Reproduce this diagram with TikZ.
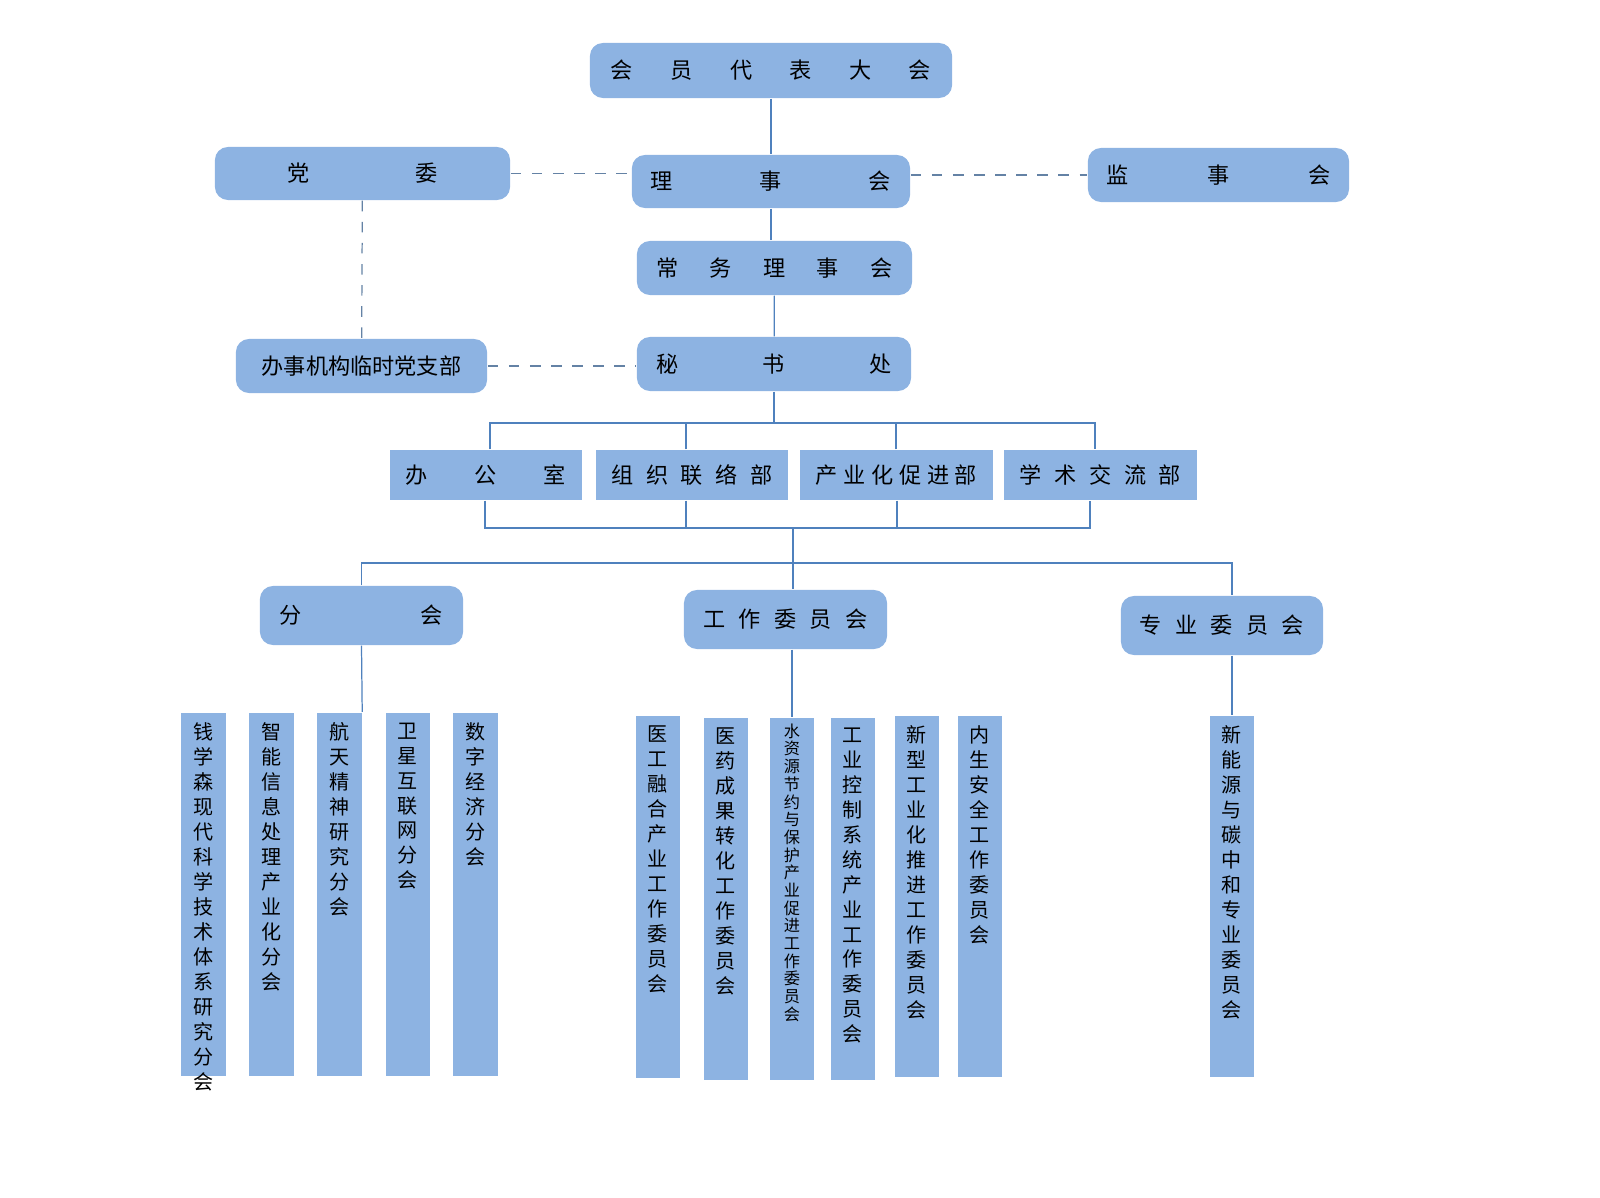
\documentclass[tikz,border=0pt]{standalone}
\usepackage{fontspec}
\setmainfont{Noto Sans CJK SC}
\definecolor{boxblue}{RGB}{141,179,226}
\definecolor{lineblue}{RGB}{79,129,189}
\definecolor{dashblue}{RGB}{100,130,165}
% spread characters over a given width
\def\spreadaux#1{\ifx#1\relax\else\hfill#1\expandafter\spreadaux\fi}
\newcommand\spread[3]{\makebox[#1]{#2\spreadaux#3\relax}}
% stack characters vertically
\def\vstackaux#1{\ifx#1\relax\else#1\\\expandafter\vstackaux\fi}
\newcommand\vstack[1]{\vstackaux#1\relax}
\tikzset{
  rbox/.style={rectangle, rounded corners=1.3mm, fill=boxblue, inner sep=0pt,
    font=\fontsize{6.3}{7}\selectfont},
  sbox/.style={rectangle, fill=boxblue, inner sep=0pt, minimum width=1.92cm,
    minimum height=0.5cm, font=\fontsize{6.3}{7}\selectfont},
  bar/.style={rectangle, fill=boxblue, inner sep=0pt, minimum width=0.44cm},
  bartext/.style={anchor=north, align=center, inner sep=0pt,
    font=\fontsize{5.7}{7.1}\selectfont},
  link/.style={draw=lineblue, line width=0.35pt},
  dlink/.style={draw=dashblue, line width=0.35pt, dashed}
}
\begin{document}
\begin{tikzpicture}[x=0.01cm, y=-0.01cm]
  \useasboundingbox (0,0) rectangle (1600,1198);
  % top levels
  \node[rbox, minimum width=3.62cm, minimum height=0.55cm] (dahui) at (771,70.5)
    {\spread{3.2cm}{会}{员代表大会}};
  \node[rbox, minimum width=2.95cm, minimum height=0.53cm] (dangwei) at (362.5,173.5)
    {\spread{1.5cm}{党}{委}};
  \node[rbox, minimum width=2.78cm, minimum height=0.53cm] (lishi) at (771,181.5)
    {\spread{2.4cm}{理}{事会}};
  \node[rbox, minimum width=2.61cm, minimum height=0.54cm] (jianshi) at (1218.5,175)
    {\spread{2.24cm}{监}{事会}};
  \node[rbox, minimum width=2.75cm, minimum height=0.54cm] (changwu) at (774.5,268)
    {\spread{2.36cm}{常}{务理事会}};
  \node[rbox, minimum width=2.51cm, minimum height=0.54cm] (zhibu) at (361.5,366)
    {办事机构临时党支部};
  \node[rbox, minimum width=2.74cm, minimum height=0.54cm] (mishu) at (774,364)
    {\spread{2.35cm}{秘}{书处}};
  % departments
  \node[sbox] (bangong) at (486,475) {\spread{1.6cm}{办}{公室}};
  \node[sbox] (zuzhi) at (692,475) {\spread{1.61cm}{组}{织联络部}};
  \node[sbox] (chanye) at (896.5,475) {\spread{1.61cm}{产}{业化促进部}};
  \node[sbox] (xueshu) at (1100.5,475) {\spread{1.61cm}{学}{术交流部}};
  % committees
  \node[rbox, minimum width=2.03cm, minimum height=0.59cm] (fenhui) at (361.5,615.5)
    {\spread{1.63cm}{分}{会}};
  \node[rbox, minimum width=2.03cm, minimum height=0.59cm] (gongzuo) at (785.5,619.5)
    {\spread{1.64cm}{工}{作委员会}};
  \node[rbox, minimum width=2.02cm, minimum height=0.59cm] (zhuanye) at (1222,625.5)
    {\spread{1.64cm}{专}{业委员会}};
  % vertical bars
  \foreach \name/\x/\yt/\yb/\txt in {
      fa/203.5/712/1075/钱学森现代科学技术体系研究分会,
      fb/271.5/712/1075/智能信息处理产业化分会,
      fc/339.5/712/1075/航天精神研究分会,
      fd/408/712/1075/卫星互联网分会,
      fe/475.5/712/1075/数字经济分会,
      ga/658/715/1077/医工融合产业工作委员会,
      gb/726/717/1079/医药成果转化工作委员会,
      gd/853/717/1079/工业控制系统产业工作委员会,
      ge/916.5/715/1076/新型工业化推进工作委员会,
      gf/979.5/715/1076/内生安全工作委员会,
      za/1232/715/1076/新能源与碳中和专业委员会} {
    \node[bar, minimum height={(\yb-\yt)*0.01cm}, anchor=north] (\name) at (\x,\yt) {};
    \node[bartext] at ([yshift=-0.1cm]\name.north) {\expandafter\vstack\expandafter{\txt}};
  }
  \node[bar, minimum height=3.62cm, anchor=north] (gc) at (792,717) {};
  \node[bartext, font=\fontsize{4.6}{5.03}\selectfont] at ([yshift=-0.06cm]gc.north)
    {\vstack{水资源节约与保护产业促进工作委员会}};
  % connectors
  \draw[link] (dahui) -- (lishi);
  \draw[link] (lishi) -- (changwu.north -| lishi.south);
  \draw[link] (changwu) -- (mishu);
  \draw[dlink] (dangwei.east) -- (lishi.west |- dangwei.east);
  \draw[dlink] (lishi.east |- jianshi.west) -- (jianshi.west);
  \draw[dlink] (dangwei) -- (zhibu);
  \draw[dlink] (zhibu) -- (mishu.west |- zhibu.east);
  \coordinate (top) at (774,423);
  \draw[link] (mishu) -- (top);
  \draw[link] (bangong.north -| 490,0) |- (top) -| (xueshu.north -| 1095,0);
  \draw[link] (zuzhi.north -| 686,0) -- (686,423);
  \draw[link] (chanye.north -| 896,0) -- (896,423);
  \coordinate (bot) at (793,528);
  \draw[link] (bangong.south -| 485,0) |- (bot) -| (xueshu.south -| 1090,0);
  \draw[link] (zuzhi.south -| 686,0) -- (686,528);
  \draw[link] (chanye.south -| 897,0) -- (897,528);
  \coordinate (mid) at (793,563);
  \draw[link] (bot) -- (mid);
  \draw[link] (fenhui.north) |- (mid) -| (zhuanye.north -| 1232,0);
  \draw[link] (mid) -- (gongzuo.north -| mid);
  \draw[link] (fenhui.south) -- (fc.north east);
  \draw[link] (gongzuo.south -| gc.north) -- (gc.north);
  \draw[link] (zhuanye.south -| za.north) -- (za.north);
\end{tikzpicture}
\end{document}
